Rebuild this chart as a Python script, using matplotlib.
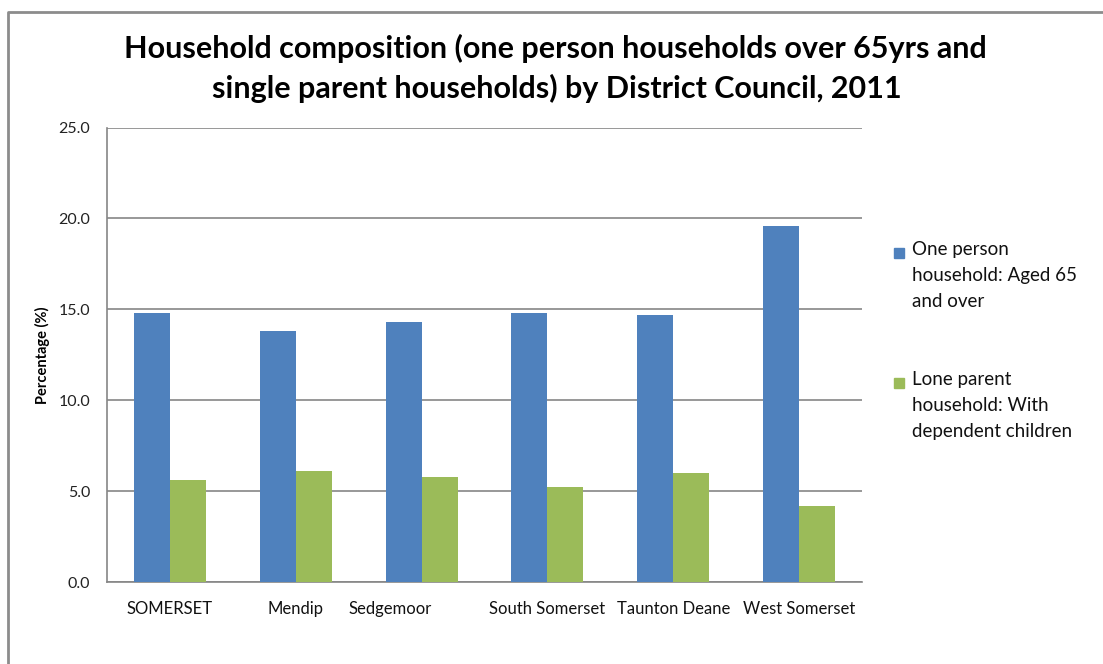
import matplotlib.pyplot as plt
import matplotlib
import numpy as np
from matplotlib.lines import Line2D
from matplotlib.patches import Rectangle
from matplotlib.transforms import ScaledTranslation

matplotlib.rcParams['font.family'] = ['Lato', 'DejaVu Sans']

districts = ['SOMERSET', 'Mendip', 'Sedgemoor', 'South Somerset',
             'Taunton Deane', 'West Somerset']
one_person_65 = [14.8, 13.8, 14.3, 14.8, 14.7, 19.6]
lone_parent = [5.6, 6.1, 5.8, 5.2, 6.0, 4.2]
series_names = ['One person\nhousehold: Aged 65\nand over',
                'Lone parent\nhousehold: With\ndependent children']
y_ticks = [0, 5, 10, 15, 20, 25]

blue = '#4F81BD'
green = '#9BBB59'
grid_grey = '#868686'

W, H = 1103, 664
fig = plt.figure(figsize=(W / 100, H / 100), dpi=100)
ax = fig.add_axes([107 / W, 1 - 582 / H, (862 - 107) / W, (582 - 127.5) / H])

x = np.arange(len(districts))
bw = 1 / 3.5  # gap width 150%
ax.bar(x - bw / 2, one_person_65, bw, color=blue, edgecolor='none', zorder=3)
ax.bar(x + bw / 2, lone_parent, bw, color=green, edgecolor='none', zorder=3)

ax.set_xlim(-0.5, len(districts) - 0.5)
ax.set_ylim(0, 25)
ax.set_yticks(y_ticks)
ax.set_yticklabels(['%.1f' % t for t in y_ticks], fontsize=11.5, color='#222222')
ax.set_xticks(x)
ax.set_xticklabels(districts, fontsize=12, color='#111111')
ax.tick_params(axis='both', length=0)
ax.tick_params(axis='y', pad=12)
ax.tick_params(axis='x', pad=14)

# Sedgemoor label sits left of its bars
lbl = ax.get_xticklabels()[2]
lbl.set_transform(lbl.get_transform() + ScaledTranslation(-0.31, 0, fig.dpi_scale_trans))

ax.grid(axis='y', color=grid_grey, linewidth=1.2, zorder=0)
for side in ['top', 'right']:
    ax.spines[side].set_visible(False)
for side in ['left', 'bottom']:
    ax.spines[side].set_color(grid_grey)
    ax.spines[side].set_linewidth(1.2)

ax.set_ylabel('Percentage (%)', fontsize=10.5, fontweight='bold')
ax.yaxis.set_label_coords(-0.075, 0.5)

fig.text(555 / W, 1 - 48 / H,
         'Household composition (one person households over 65yrs and',
         ha='center', va='center', fontsize=22, fontweight='bold')
fig.text(557 / W, 1 - 88 / H,
         'single parent households) by District Council, 2011',
         ha='center', va='center', fontsize=22, fontweight='bold')

# legend entries
for i, (name, col) in enumerate(zip(series_names, [blue, green])):
    top = 248 + i * 130
    fig.add_artist(Rectangle((894 / W, 1 - (top + 10) / H), 10 / W, 10 / H,
                             transform=fig.transFigure, color=col))
    fig.text(912 / W, 1 - (top - 7) / H, name, ha='left', va='top',
             fontsize=13.5, linespacing=1.64, color='#111111')

# chart area border
fig.add_artist(Line2D([8 / W, 8 / W, 1.0], [0.0, 1 - 12 / H, 1 - 12 / H],
                      transform=fig.transFigure, color='#8c8c8c', linewidth=2))

fig.savefig('out.png', dpi=100)
